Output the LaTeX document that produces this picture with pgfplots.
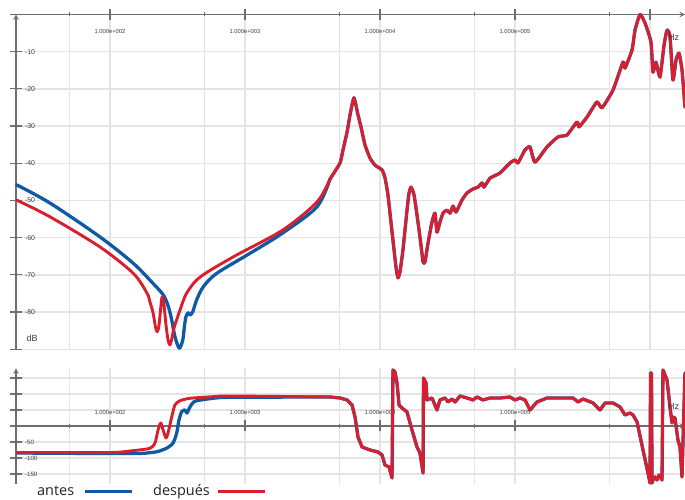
\documentclass[border=0pt]{standalone}
\usepackage{fontspec}
\setmainfont{Liberation Sans}
\newfontfamily\legfont{Open Sans}
\usepackage{pgfplots}
\usepackage{pgfplotstable}
\pgfplotsset{compat=1.18}
\definecolor{bluec}{RGB}{16,90,165}
\definecolor{redc}{RGB}{218,30,45}
\definecolor{gridc}{RGB}{228,228,228}
\definecolor{axc}{RGB}{110,110,110}
\definecolor{labc}{RGB}{60,60,60}
\definecolor{legc}{RGB}{35,35,35}

% x = log10(f / Hz), y = magnitude in dB
\pgfplotstableread{
x y
1.309 -45.8
1.556 -50.7
1.926 -59.8
2.173 -66.9
2.319 -72.3
2.395 -75.4
2.432 -78.5
2.457 -82.1
2.481 -86.6
2.513 -89.7
2.539 -87.5
2.551 -83.9
2.563 -81.2
2.580 -80.2
2.593 -80.8
2.613 -79.9
2.642 -76.7
2.691 -73.2
2.790 -69.6
3.037 -64.2
3.281 -58.7
3.533 -51.7
3.630 -44.2
}\bluemaglow
\pgfplotstableread{
x y
1.309 -49.9
1.556 -54.4
1.926 -62.5
2.173 -69.6
2.274 -74.9
2.296 -77.3
2.319 -80.2
2.337 -84.0
2.350 -85.3
2.363 -83.5
2.378 -78.1
2.387 -75.9
2.400 -78.1
2.415 -83.5
2.430 -87.5
2.444 -88.8
2.459 -87.0
2.474 -84.3
2.519 -79.4
2.568 -74.9
2.667 -70.6
2.911 -65.2
3.281 -57.9
3.533 -50.4
3.630 -44.2
}\redmaglow
\pgfplotstableread{
x y
3.630 -44.2
3.704 -39.9
3.726 -36.4
3.756 -31.6
3.778 -27.0
3.807 -22.4
3.837 -27.0
3.859 -30.2
3.889 -35.1
3.926 -38.6
3.963 -40.5
4.015 -41.8
4.037 -43.9
4.059 -48.5
4.081 -55.8
4.104 -63.3
4.119 -68.1
4.133 -70.8
4.148 -69.2
4.170 -63.3
4.200 -52.6
4.215 -48.0
4.230 -46.4
4.252 -48.5
4.274 -53.9
4.296 -59.8
4.319 -66.5
4.333 -66.5
4.356 -61.4
4.385 -55.8
4.407 -53.4
4.422 -58.5
4.444 -55.8
4.467 -53.4
4.496 -52.6
4.519 -53.4
4.541 -51.5
4.563 -53.1
4.607 -49.9
4.644 -48.0
4.689 -46.9
4.726 -46.4
4.756 -45.3
4.770 -46.4
4.815 -44.0
4.889 -42.6
4.963 -39.9
5.000 -39.1
5.022 -39.9
5.074 -36.4
5.111 -35.6
5.148 -39.7
5.237 -35.6
5.319 -32.9
5.385 -32.4
5.459 -28.9
5.474 -30.2
5.533 -27.6
5.607 -23.5
5.644 -25.1
5.726 -20.3
5.800 -12.8
5.815 -14.4
5.867 -9.5
5.889 -4.2
5.926 0.0
5.963 -2.3
6.007 -7.4
6.022 -15.5
6.044 -12.8
6.074 -16.8
6.104 -8.2
6.126 -4.2
6.148 -5.8
6.170 -17.6
6.193 -12.2
6.215 -10.4
6.237 -14.9
6.259 -24.9
}\magcommon

% x = log10(f / Hz), y = phase in degrees
\pgfplotstableread{
x y
1.311 -84.4
1.926 -85.9
2.222 -85.9
2.348 -80.3
2.422 -68.8
2.467 -53.1
2.494 -21.9
2.511 18.8
2.531 44.7
2.556 50.0
2.570 40.6
2.593 60.3
2.615 72.8
2.642 79.1
2.763 86.6
2.889 89.7
3.630 90.6
}\bluephlow
\pgfplotstableread{
x y
1.311 -83.4
2.000 -82.8
2.148 -78.1
2.296 -69.7
2.333 -53.1
2.356 -12.5
2.376 9.4
2.393 -12.5
2.415 -37.5
2.430 -21.9
2.457 28.1
2.481 65.6
2.519 79.1
2.593 86.6
2.763 91.6
2.889 93.8
3.630 90.6
}\redphlow
\pgfplotstableread{
x y
3.630 90.6
3.704 87.5
3.756 81.3
3.793 65.6
3.815 28.1
3.837 -34.4
3.867 -65.6
3.926 -75.0
3.985 -81.3
4.015 -90.6
4.037 -121.9
4.067 -128.1
4.089 -162.5
4.096 175.0
4.111 168.8
4.126 134.4
4.141 65.6
4.163 56.3
4.200 43.8
4.237 -12.5
4.274 -65.6
4.296 -84.4
4.319 -146.9
4.322 150.0
4.341 134.4
4.348 81.3
4.385 87.5
4.422 50.0
4.444 81.3
4.481 87.5
4.504 75.0
4.533 84.4
4.556 75.0
4.593 93.8
4.644 87.5
4.689 81.3
4.719 90.6
4.763 81.3
4.815 87.5
4.889 87.5
4.963 90.6
5.000 81.3
5.037 87.5
5.074 81.3
5.111 50.0
5.163 75.0
5.237 87.5
5.356 87.5
5.430 87.5
5.467 75.0
5.504 84.4
5.578 71.9
5.630 50.0
5.667 71.9
5.726 71.9
5.778 59.4
5.815 34.4
5.852 40.6
5.874 34.4
5.904 12.5
5.948 -75.0
5.985 -146.9
6.000 -178.1
6.004 165.6
6.011 165.6
6.015 -178.1
6.022 -168.8
6.037 -159.4
6.052 -168.8
6.067 -153.1
6.089 -168.8
6.096 175.0
6.126 143.8
6.148 59.4
6.163 9.4
6.170 28.1
6.185 25.0
6.207 -43.8
6.222 -65.6
6.237 -159.4
6.244 -53.1
6.259 165.6
}\phcommon

\pgfplotsset{
  common/.style={
    scale only axis, width=669bp,
    xmin=1.3037, xmax=6.2593, clip=false,
    tick align=center, major tick length=11bp, minor tick length=4bp,
    grid=both,
    major grid style={draw=gridc, line width=1.3bp},
    minor grid style={draw=gridc, line width=1.3bp},
    axis line style={draw=axc, line width=1.4bp, -},
    every tick/.style={draw=axc, line width=1.2bp},
    minor tick style={draw=axc, line width=1.0bp},
    xtick={2,3,4,5,6},
    minor xtick={1.699,2.699,3.699,4.699,5.699},
    xticklabels={1.000e+002,1.000e+003,1.000e+004,1.000e+005,{}},
    xticklabel style={font=\fontsize{5.8}{6}\selectfont, text=labc},
    yticklabel style={font=\fontsize{7}{8}\selectfont, text=labc, anchor=west},
    every axis plot/.append style={line join=round, line cap=round},
  },
  bl/.style={draw=bluec, line width=3.3bp, no marks},
  rd/.style={draw=redc, line width=2.9bp, no marks},
}

\begin{document}
\begin{tikzpicture}[x=1bp,y=1bp]
\useasboundingbox (0,0) rectangle (685,500);
\begin{axis}[common,
  at={(16bp,150.7bp)}, anchor=south west, height=334.8bp,
  ymin=-90, ymax=0,
  axis x line=top, axis y line=left,
  ytick={-90,-80,-70,-60,-50,-40,-30,-20,-10,0},
  yticklabels={{},-80,-70,-60,-50,-40,-30,-20,-10,{}},
  xticklabel style={anchor=north, yshift=-17bp},
  yticklabel style={xshift=11bp},
]
\addplot[bl, smooth, tension=0.5] table {\bluemaglow};
\addplot[bl, smooth, tension=0.3] table {\magcommon};
\addplot[rd, smooth, tension=0.5] table {\redmaglow};
\addplot[rd, smooth, tension=0.3] table {\magcommon};
\end{axis}
\begin{axis}[common,
  at={(16bp,16.4bp)}, anchor=south west, height=115.2bp,
  ymin=-180, ymax=180,
  axis x line=middle, axis y line=left,
  ytick={-150,-100,-50,0,50,100,150},
  yticklabels={-150,-100,-50,{},{},{},{}},
  xticklabel style={anchor=south, yshift=13bp},
  yticklabel style={xshift=11bp, font=\fontsize{6.2}{7}\selectfont},
]
\addplot[bl, smooth, tension=0.4] table {\bluephlow};
\addplot[bl] table {\phcommon};
\addplot[rd, smooth, tension=0.4] table {\redphlow};
\addplot[rd] table {\phcommon};
\end{axis}
\node[anchor=center, font=\fontsize{9}{10}\selectfont, text=labc] at (32,162) {dB};
\node[anchor=west, inner sep=0, font=\fontsize{9}{10}\selectfont, text=labc] at (668,463) {Hz};
\node[anchor=west, inner sep=0, font=\fontsize{9}{10}\selectfont, text=labc] at (668,94) {Hz};
\node[anchor=base west, inner sep=0, font=\legfont\fontsize{14.5}{16}\selectfont, text=legc] at (37,4) {antes};
\draw[bluec, line width=3bp] (85,8.5) -- (132,8.5);
\node[anchor=base west, inner sep=0, font=\legfont\fontsize{14.5}{16}\selectfont, text=legc] at (153,4) {después};
\draw[redc, line width=3bp] (218,8.5) -- (265,8.5);
\end{tikzpicture}
\end{document}
